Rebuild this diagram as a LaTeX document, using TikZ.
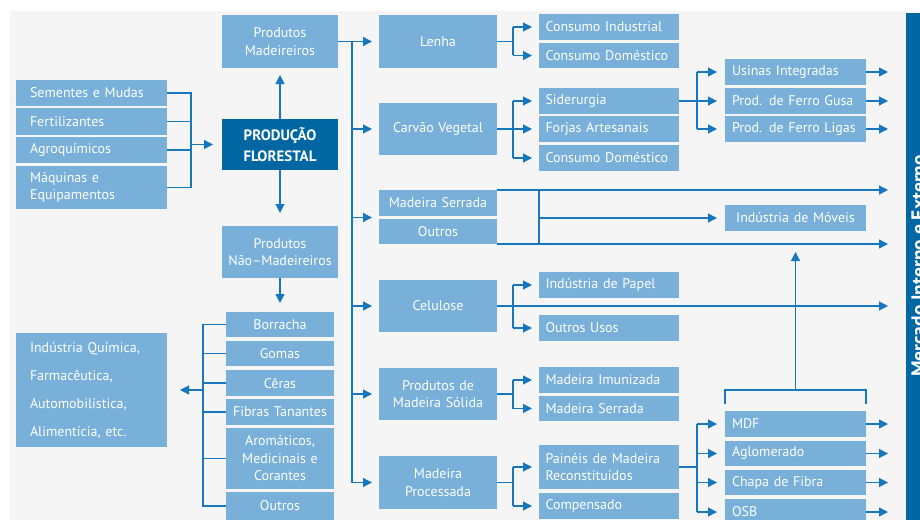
\documentclass[tikz,border=0pt]{standalone}
\usepackage{fontspec}
\setmainfont{PT Sans}
\usetikzlibrary{arrows.meta,calc}
\definecolor{boxblue}{HTML}{78B0DA}
\definecolor{darkblue}{HTML}{0067A3}
\definecolor{lineblue}{HTML}{1777BE}
\definecolor{bggray}{HTML}{F5F5F5}
\begin{document}
\begin{tikzpicture}[x=1pt,y=-1pt,
  box/.style={fill=boxblue, text=white, inner ysep=0pt, outer sep=0pt, anchor=north west, font=\fontsize{14}{17.5}\selectfont},
  lc/.style={box, minimum width=151pt, inner xsep=14pt, text width=123pt, align=left},
  cc/.style={box, minimum width=116pt, inner xsep=1pt, text width=114pt, align=center},
  mc/.style={box, minimum width=118pt, inner xsep=1pt, text width=116pt, align=center},
  nw/.style={box, minimum width=108pt, inner xsep=1pt, text width=106pt, align=center},
  ctwo/.style={box, minimum width=140pt, inner xsep=6.5pt, text width=127pt, align=left},
  cthree/.style={box, minimum width=141pt, inner xsep=7pt, text width=127pt, align=left},
  conn/.style={draw=lineblue, line width=1.2pt},
  arr/.style={conn, -{Triangle[length=9pt,width=9pt]}, shorten >=7pt},
  arrR/.style={conn, -{Triangle[length=9pt,width=9pt]}}
]
\useasboundingbox (0,0) rectangle (920,519);
\clip (0,0) rectangle (920,519);
\fill[white] (0,0) rectangle (920,519);
\fill[bggray] (10,11) rectangle (906,530);

% right bar
\node[fill=darkblue, outer sep=0pt, inner sep=0pt, anchor=north west, minimum width=30pt, minimum height=520pt] (bar) at (906,13) {};
\node[rotate=90, anchor=base, inner sep=0pt, text=white, font=\fontsize{19.5}{22}\selectfont\bfseries] (mkt) at (925,266) {Mercado Interno e Externo};

% left inputs
\node[lc, minimum height=26pt] (sem) at (16,80) {Sementes e Mudas};
\node[lc, minimum height=27pt] (fert) at (16,108) {Fertilizantes};
\node[lc, minimum height=26pt] (agro) at (16,137) {Agroquímicos};
\node[lc, minimum height=43pt] (maq) at (16,166) {Máquinas e\\Equipamentos};
\node[lc, minimum height=114pt, font=\fontsize{14}{28}\selectfont] (ind) at (16,333) {Indústria Química,\\Farmacêutica,\\Automobilística,\\Alimentícia, etc.};

% center column
\node[cc, minimum height=53pt] (pm) at (222,15) {Produtos\\Madeireiros};
\node[cc, minimum height=51pt, fill=darkblue, font=\fontsize{15}{21}\selectfont\bfseries] (prod) at (222,119) {PRODUÇÃO\\FLORESTAL};
\node[cc, minimum height=52pt] (pnm) at (222,226) {Produtos\\Não–Madeireiros};

% non-wood
\node[nw, minimum height=25pt] (bor) at (226,312) {Borracha};
\node[nw, minimum height=25pt] (gom) at (226,341) {Gomas};
\node[nw, minimum height=26pt] (cer) at (226,370) {Cêras};
\node[nw, minimum height=26pt] (fib) at (226,399) {Fibras Tanantes};
\node[nw, minimum height=61pt] (aro) at (226,428) {Aromáticos,\\Medicinais e\\Corantes};
\node[nw, minimum height=28pt] (outb) at (226,492) {Outros};

% middle column
\node[mc, minimum height=53pt] (len) at (379,15) {Lenha};
\node[mc, minimum height=52pt] (car) at (379,103) {Carvão Vegetal};
\node[mc, minimum height=26pt] (ms) at (379,190) {Madeira Serrada};
\node[mc, minimum height=25pt] (ot) at (379,219) {Outros};
\node[mc, minimum height=52pt] (cel) at (379,280) {Celulose};
\node[mc, minimum height=52pt] (pms) at (379,368) {Produtos de\\Madeira Sólida};
\node[mc, minimum height=53pt] (mpr) at (379,456) {Madeira\\Processada};

% column 2
\node[ctwo, minimum height=26pt] (ci) at (539,14) {Consumo Industrial};
\node[ctwo, minimum height=25pt] (cda) at (539,43) {Consumo Doméstico};
\node[ctwo, minimum height=26pt] (sid) at (539,88) {Siderurgia};
\node[ctwo, minimum height=26pt] (forj) at (539,116) {Forjas Artesanais};
\node[ctwo, minimum height=26pt] (cdb) at (539,145) {Consumo Doméstico};
\node[ctwo, minimum height=26pt] (pap) at (539,272) {Indústria de Papel};
\node[ctwo, minimum height=26pt] (ou) at (539,315) {Outros Usos};
\node[ctwo, minimum height=26pt] (mim) at (539,367) {Madeira Imunizada};
\node[ctwo, minimum height=25pt] (mse) at (539,396) {Madeira Serrada};
\node[ctwo, minimum height=44pt] (pai) at (539,445) {Painéis de Madeira\\Reconstituídos};
\node[ctwo, minimum height=26pt] (com) at (539,493) {Compensado};

% column 3
\node[cthree, minimum height=26pt] (usi) at (725,59) {Usinas Integradas};
\node[cthree, minimum height=26pt] (gus) at (725,88) {Prod. de Ferro Gusa};
\node[cthree, minimum height=26pt] (lig) at (725,116) {Prod. de Ferro Ligas};
\node[cthree, minimum height=26pt, align=center] (mov) at (725,205) {Indústria de Móveis};
\node[cthree, minimum height=26pt] (mdf) at (725,411) {MDF};
\node[cthree, minimum height=25pt] (agl) at (725,441) {Aglomerado};
\node[cthree, minimum height=25pt] (cha) at (725,470) {Chapa de Fibra};
\node[cthree, minimum height=26pt] (osb) at (725,499) {OSB};

% helper coordinates
\coordinate (ix) at (191,0);
\coordinate (nx) at (203,0);
\coordinate (mx) at (352,0);
\coordinate (bx) at (513,0);
\coordinate (vx) at (539,0);
\coordinate (cx) at (697,0);
\coordinate (rx) at (888,0);

% inputs -> producao
\draw[conn] (sem.east) -- (sem.east -| ix) -- (maq.east -| ix) -- (maq.east);
\draw[conn] (fert.east) -- (fert.east -| ix);
\draw[conn] (agro.east) -- (agro.east -| ix);
\draw[arr, shorten >=9pt] (prod.west -| ix) -- (prod.west);

% producao up/down
\draw[arr] (prod.north) -- (pm.south);
\draw[arr, shorten >=13pt] (prod.south) -- (pnm.north);
\draw[arr, shorten >=9pt] (pnm.south) -- (bor.north);

% non-wood bracket
\draw[conn] (bor.west) -- (bor.west -| nx) -- (outb.west -| nx) -- (outb.west);
\foreach \n in {gom,cer,fib,aro} \draw[conn] (\n.west) -- (\n.west -| nx);
\draw[arr, shorten >=13pt] (ind.east -| nx) -- (ind.east);

% main vertical
\draw[conn] (pm.east) -- (pm.east -| mx) -- (mpr.west -| mx);
\foreach \n in {len,car,cel,pms,mpr} \draw[arr] (\n.west -| mx) -- (\n.west);
\coordinate (msot) at ($(ms.south west)!0.5!(ot.north west)$);
\draw[arr] (msot -| mx) -- (msot);

% brackets to column 2
\draw[conn] (len.east) -- (len.east -| bx);
\draw[conn] (ci.west -| bx) -- (cda.west -| bx);
\draw[conn] (car.east) -- (car.east -| bx);
\draw[conn] (sid.west -| bx) -- (cdb.west -| bx);
\draw[conn] (pap.west -| bx) -- (ou.west -| bx);
\draw[conn] (pms.east) -- (pms.east -| bx);
\draw[conn] (mim.west -| bx) -- (mse.west -| bx);
\draw[conn] (mpr.east) -- (mpr.east -| bx);
\draw[conn] (pai.west -| bx) -- (com.west -| bx);
\foreach \n in {ci,cda,sid,forj,cdb,pap,ou,mim,mse,pai,com} \draw[arr] (\n.west -| bx) -- (\n.west);

% brackets to column 3
\draw[conn] (sid.east) -- (sid.east -| cx);
\draw[conn] (usi.west -| cx) -- (lig.west -| cx);
\draw[conn] (pai.east) -- (pai.east -| cx);
\draw[conn] (mdf.west -| cx) -- (osb.west -| cx);
\foreach \n in {usi,gus,lig,mdf,agl,cha,osb} \draw[arr, shorten >=8pt] (\n.west -| cx) -- (\n.west);

% right arrows
\foreach \n in {usi,gus,lig,mdf,agl,cha,osb} \draw[arrR] (\n.east) -- (\n.east -| rx);
\draw[arrR] (ms.north east) -- (ms.north east -| rx);
\draw[arrR] (ot.south east) -- (ot.south east -| rx);
\draw[arrR] (cel.east) -- (cel.east -| rx);
\draw[conn] (ms.north east -| vx) -- (ot.south east -| vx);
\draw[arr, shorten >=8pt] (mov.west -| vx) -- (mov.west);

% MDF group to moveis
\draw[conn] ($(mdf.north west)+(0,-7)$) -- ++(0,-14) -| ($(mdf.north east)+(0,-7)$);
\draw[arr, shorten >=21pt] ($(mdf.north)+(0,-21)$) -- (mov.south);
\end{tikzpicture}
\end{document}
